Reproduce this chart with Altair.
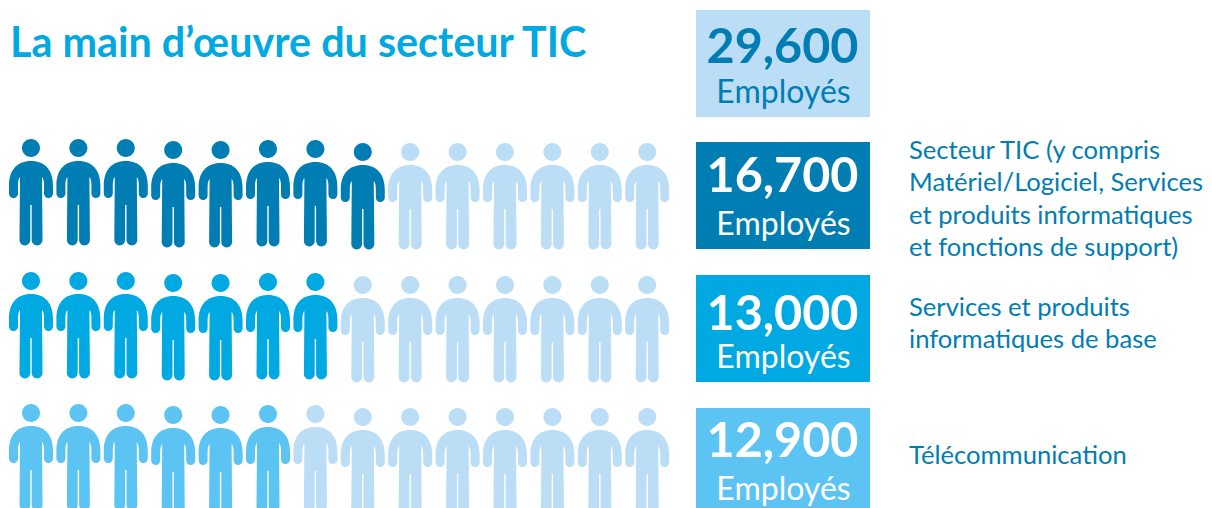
import altair as alt
import pandas as pd

TITLE = "La main d’œuvre du secteur TIC"
TOTAL = "29,600"
UNIT = "Employés"
ROW_VALUES = ["16,700", "13,000", "12,900"]
ROW_FILLED = [8, 7, 6]
ROW_COLOURS = ["#007DB3", "#00A9E2", "#5CC4F2"]
ROW_LABELS = [
    ["Secteur TIC (y compris", "Matériel/Logiciel, Services", "et produits informatiques", "et fonctions de support)"],
    ["Services et produits", "informatiques de base"],
    ["Télécommunication"],
]
PALE = "#BBDDF6"
ICONS_PER_ROW = 14

# layout (page pixels)
W, H = 1196, 500
OX, OY = 8, 8
HEAD_Y = [148, 281, 413]
ICON_X0, ICON_STEP = 31, 47.4
COL_DY = [0, 0, 0, 2, 2, 1, 1, 4, 4, 4, 4, 4, 4, 4]
BOX_X = (696, 870)
BOX_TOP = [142, 275, 408]
BOX_H = 107
LABEL_X = 909
LABEL_STEP = 32.3
LABEL_BASE = [159, 316, 464]

PERSON = (
    "M-9 0A9 9 0 1 1 9 0A9 9 0 1 1 -9 0Z"
    "M0 13C14 13 22 22 22 38L22 45.5A4.5 4.5 0 0 1 13 45.5L13 37Q13 31 11 29"
    "L11.5 92A5.4 5.4 0 0 1 0.7 92L0.7 57L-0.7 57L-0.7 92A5.4 5.4 0 0 1 -11.5 92"
    "L-11 29Q-13 31 -13 37L-13 45.5A4.5 4.5 0 0 1 -22 45.5L-22 38C-22 22 -14 13 0 13Z"
)

xs = alt.Scale(domain=[0, W], range=[0, W])
ys = alt.Scale(domain=[0, H], range=[0, H])
X = lambda f: alt.X(f, type="quantitative", scale=xs, axis=None)
Y = lambda f: alt.Y(f, type="quantitative", scale=ys, axis=None)

people = []
for r, (n, c) in enumerate(zip(ROW_FILLED, ROW_COLOURS)):
    for k in range(ICONS_PER_ROW):
        people.append({
            "x": ICON_X0 + k * ICON_STEP - OX,
            "y": HEAD_Y[r] + COL_DY[k] - OY,
            "colour": c if k < n else PALE,
        })
people = pd.DataFrame(people)

boxes = pd.DataFrame(
    [{"x": BOX_X[0] - OX, "x2": BOX_X[1] - OX, "y": 10 - OY, "y2": 117 - OY, "colour": PALE}]
    + [{"x": BOX_X[0] - OX, "x2": BOX_X[1] - OX, "y": t - OY, "y2": t + BOX_H - OY, "colour": c}
       for t, c in zip(BOX_TOP, ROW_COLOURS)]
)

BOX_CX = (BOX_X[0] + BOX_X[1]) / 2 - OX
nums = pd.DataFrame(
    [{"x": BOX_CX - 0.5, "y": 63 - OY, "t": TOTAL, "colour": ROW_COLOURS[0]}]
    + [{"x": BOX_CX - 0.5, "y": b - OY, "t": v, "colour": "#FFFFFF"}
       for b, v in zip([192, 330, 457], ROW_VALUES)]
)
units = pd.DataFrame(
    [{"x": BOX_CX + 0.5, "y": 103 - OY, "t": UNIT, "colour": ROW_COLOURS[0]}]
    + [{"x": BOX_CX + 0.5, "y": b - OY, "t": UNIT, "colour": "#FFFFFF"} for b in [235, 368, 500]]
)
labels = pd.DataFrame([
    {"x": LABEL_X - OX, "y": LABEL_BASE[r] + i * LABEL_STEP - OY, "t": line}
    for r, lines in enumerate(ROW_LABELS) for i, line in enumerate(lines)
])
title_df = pd.DataFrame([{"x": 10 - OX, "y": 57 - OY, "t": TITLE}])

col = alt.Color("colour:N", scale=None)

box_layer = alt.Chart(boxes).mark_rect(clip=True).encode(
    x=X("x"), x2="x2", y=Y("y"), y2="y2", color=col)
icon_layer = alt.Chart(people).mark_point(
    shape=PERSON, size=4, filled=True, opacity=1, strokeWidth=0, clip=True
).encode(x=X("x"), y=Y("y"), color=col)
num_layer = alt.Chart(nums).mark_text(
    font="Lato", fontSize=48.5, fontWeight=700, align="center", baseline="alphabetic"
).encode(x=X("x"), y=Y("y"), text="t:N", color=col)
unit_layer = alt.Chart(units).mark_text(
    font="Lato", fontSize=32, align="center", baseline="alphabetic", clip=True
).encode(x=X("x"), y=Y("y"), text="t:N", color=col)
label_layer = alt.Chart(labels).mark_text(
    font="Lato", fontSize=25.6, align="left", baseline="alphabetic", color=ROW_COLOURS[0]
).encode(x=X("x"), y=Y("y"), text="t:N")
title_layer = alt.Chart(title_df).mark_text(
    font="Lato", fontSize=41.3, fontWeight=700, align="left", baseline="alphabetic", color=ROW_COLOURS[1]
).encode(x=X("x"), y=Y("y"), text="t:N")

chart = (
    alt.layer(box_layer, icon_layer, num_layer, unit_layer, label_layer, title_layer)
    .properties(width=W, height=H, padding=0, background="white",
                autosize=alt.AutoSizeParams(type="none"))
    .configure_view(stroke=None)
)
chart.save("out.html", embed_options={"renderer": "svg", "actions": False})
